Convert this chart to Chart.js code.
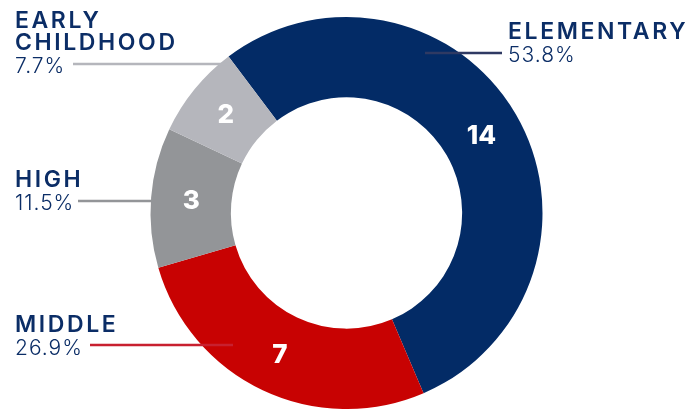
<!DOCTYPE html>
<html>
<head>
<meta charset="utf-8">
<script src="https://cdn.jsdelivr.net/npm/chart.js@4/dist/chart.umd.min.js"></script>
<style>
  html, body { margin: 0; padding: 0; background: #fff; }
  #wrap { width: 693px; height: 409px; position: relative; }
</style>
</head>
<body>
<div id="wrap"><canvas id="mycanvas"></canvas></div>
<script>
var categories = ['ELEMENTARY', 'MIDDLE', 'HIGH', 'EARLY|CHILDHOOD'];
var counts = [14, 7, 3, 2];
var colors = ['#032b66', '#c80202', '#939598', '#b5b6bc'];
var lineColors = ['#2f3a63', '#c8202f', '#939598', '#b5b6bc'];

// label placement: [text x, first baseline y, line y, line start x, line end x]
var labelPos = [
	[508, 39, 53, 502, 425],
	[15, 332, 345, 90, 233],
	[15, 187, 201, 78, 151],
	[15, 28, 64, 73, 230]
];

var total = counts.reduce(function(a, b) { return a + b; }, 0);
var textNavy = '#0b2d66';

var labelPlugin = {
	id: 'labels',
	afterDatasetsDraw: function(chart) {
		var ctx = chart.ctx;
		var meta = chart.getDatasetMeta(0);
		ctx.save();
		for (var i = 0; i < counts.length; i++) {
			// value inside slice
			var arc = meta.data[i];
			var p = arc.tooltipPosition();
			ctx.fillStyle = '#fff';
			ctx.font = '800 26px Inter';
			ctx.textAlign = 'center';
			ctx.textBaseline = 'middle';
			ctx.letterSpacing = '0px';
			ctx.fillText(counts[i], p.x, p.y + 1);

			// leader line
			var lp = labelPos[i];
			ctx.strokeStyle = lineColors[i];
			ctx.lineWidth = 2.5;
			ctx.beginPath();
			ctx.moveTo(lp[3], lp[2]);
			ctx.lineTo(lp[4], lp[2]);
			ctx.stroke();

			// category + percent
			ctx.textAlign = 'left';
			ctx.textBaseline = 'alphabetic';
			ctx.fillStyle = textNavy;
			ctx.font = '600 23px Inter';
			ctx.letterSpacing = '2.6px';
			var lines = categories[i].split('|');
			var y = lp[1];
			for (var j = 0; j < lines.length; j++) {
				ctx.fillText(lines[j], lp[0], y);
				y += 22;
			}
			ctx.font = '300 21px Inter';
			ctx.letterSpacing = '1px';
			var pct = (counts[i] / total * 100).toFixed(1) + '%';
			ctx.fillText(pct, lp[0], y + 1);
		}
		ctx.restore();
	}
};

var ctx = document.getElementById('mycanvas');
var chart = new Chart(ctx, {
	type: 'doughnut',
	data: {
		labels: categories,
		datasets: [{
			data: counts,
			backgroundColor: colors,
			borderWidth: 0
		}]
	},
	options: {
		responsive: true,
		maintainAspectRatio: false,
		animation: false,
		rotation: -37,
		cutout: '59%',
		layout: { padding: { top: 17, bottom: 0, left: 0, right: 0 } },
		plugins: {
			legend: { display: false },
			tooltip: { enabled: false }
		}
	},
	plugins: [labelPlugin]
});
</script>
</body>
</html>
